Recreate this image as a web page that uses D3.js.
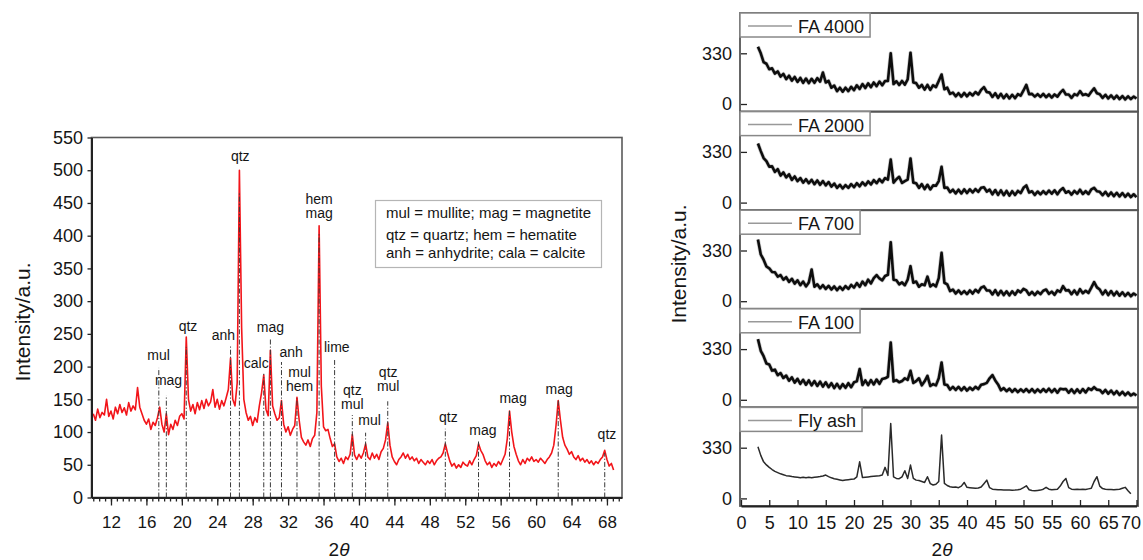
<!DOCTYPE html>
<html>
<head>
<meta charset="utf-8">
<script src="https://cdn.jsdelivr.net/npm/d3@7"></script>
<style>
  body { margin: 0; background: #fff; }
  svg text { font-family: "Liberation Sans", Arial, Helvetica, sans-serif; fill: #151515; }
</style>
</head>
<body>
<script>
// ---------------- Left panel: XRD pattern with phase assignments ----------------
const leftThetaStart = 10.0;   // first 2θ sample
const leftThetaStep = 0.25;    // 2θ sampling interval
const leftIntensity = [
  128,118,135,122,130,126,150,124,132,120,138,128,142,130,137,126,
  145,132,140,134,168,138,128,118,112,120,104,115,110,122,138,112,
  100,128,96,112,104,118,110,124,128,120,245,150,132,142,128,145,
  134,148,136,150,140,146,165,138,150,135,148,140,152,165,213,150,
  140,175,500,260,150,130,118,124,110,122,115,140,160,187,135,125,
  225,140,128,118,122,148,112,100,108,95,104,110,153,118,92,85,
  80,88,78,90,95,130,415,170,108,102,104,90,78,82,62,55,
  60,52,62,58,66,96,65,58,66,60,68,82,62,58,68,60,
  66,58,70,75,88,114,80,62,55,50,58,62,68,60,66,58,
  62,56,60,52,58,54,50,56,52,58,50,56,60,62,68,82,
  68,56,48,52,45,50,46,54,50,48,56,50,58,64,82,72,
  66,56,50,54,46,52,48,55,50,58,66,90,132,100,78,66,
  56,50,58,52,60,56,62,55,58,54,60,56,52,58,62,68,
  80,110,148,118,92,80,74,66,70,62,58,64,56,60,54,58,
  52,56,50,55,52,58,62,72,58,48,52,42
];
const leftYTicks = [0, 50, 100, 150, 200, 250, 300, 350, 400, 450, 500, 550];
const leftXTicks = [12, 16, 20, 24, 28, 32, 36, 40, 44, 48, 52, 56, 60, 64, 68];

// Reflection markers: 2θ position and height of the dash-dot line
const markerTheta = [17.4, 18.25, 20.5, 25.5, 26.5, 29.25, 30.0, 31.25, 33.0, 35.5, 37.25, 39.25, 40.75, 43.25, 49.75, 53.5, 57.0, 62.5, 67.75];
const markerTop   = [198, 156, 230, 231, 465, 189, 242, 207, 152, 405, 210, 126, 99, 147, 105, 88, 134, 150, 68];

// Phase labels: text lines, 2θ of label centre, intensity level of first line
const labelLines = [["mul"],["mag"],["qtz"],["anh"],["qtz"],["calc"],["mag"],["anh"],["mul","hem"],["hem","mag"],["lime"],["qtz","mul"],["mul"],["qtz","mul"],["qtz"],["mag"],["mag"],["mag"],["qtz"]];
const labelTheta = [17.37, 18.5, 20.7, 24.7, 26.6, 28.4, 30.0, 32.35, 33.3, 35.5, 37.5, 39.25, 41.2, 43.3, 50.1, 54.0, 57.4, 62.6, 68.0];
const labelLevel = [218, 180, 262, 248, 522, 205, 260, 222, 192, 456, 230, 165, 118, 192, 123, 103, 152, 166, 97];

const keyLines = ["mul = mullite; mag = magnetite", "qtz = quartz; hem = hematite", "anh = anhydrite; cala = calcite"];

// ---------------- Right panel: stacked patterns ----------------
const sampleNames = ["FA 4000", "FA 2000", "FA 700", "FA 100", "Fly ash"];
const rightThetaStart = 3.0;
const rightThetaStep = 0.5;
const fa4000 = [
  373,330,272,262,226,232,198,212,178,196,162,184,152,176,144,170,138,166,136,164,
  138,168,146,205,140,150,106,120,84,106,80,106,84,112,90,122,98,130,104,134,
  110,140,116,146,122,150,150,330,130,148,124,150,126,160,334,140,136,106,124,94,
  124,92,122,110,150,192,96,106,66,74,50,70,48,72,50,72,56,78,62,92,
  110,78,74,46,70,40,66,38,62,36,60,38,64,54,88,124,64,66,48,64,
  46,66,44,62,42,62,48,74,92,62,62,40,64,56,84,58,64,54,80,102,
  70,64,40,60,36,56,34,54,32,52,30,50,32,48,36
];
const fa2000 = [
  385,335,290,270,234,236,200,218,176,196,164,184,148,170,140,160,130,152,126,148,
  120,144,116,140,112,134,104,124,96,116,92,114,96,120,100,126,106,132,112,138,
  118,146,126,152,132,160,150,280,130,152,168,128,140,150,287,130,126,96,120,88,
  116,86,112,110,140,233,96,98,68,84,60,84,60,86,62,86,66,88,70,96,
  100,72,84,54,82,50,80,48,76,46,74,50,76,62,96,112,66,74,50,72,
  54,74,56,78,58,80,54,80,94,64,74,52,76,58,84,56,74,56,86,96,
  74,70,48,70,44,66,42,64,40,62,38,58,36,54,36
];
const fa700 = [
  401,304,270,226,214,190,188,160,170,140,156,126,146,114,136,104,128,96,122,206,
  94,110,84,104,80,100,76,96,72,94,74,98,80,106,88,118,94,128,104,140,
  116,150,170,148,136,164,172,384,140,136,110,122,104,140,228,120,128,94,110,104,
  160,96,110,96,150,315,120,110,66,76,50,70,48,66,46,70,50,74,58,88,
  96,70,70,44,72,40,68,40,64,38,64,42,70,58,80,70,42,60,40,62,
  46,68,76,48,62,42,70,60,98,70,72,46,70,44,78,52,68,54,88,124,
  90,76,44,70,40,66,38,62,36,58,34,54,32,50,37
];
const fa100 = [
  395,319,284,236,230,190,196,160,174,142,158,124,146,112,136,104,130,98,126,94,
  122,90,118,86,114,82,108,76,104,74,102,78,108,82,114,120,200,96,126,96,
  128,100,132,104,136,140,150,373,120,128,114,122,140,130,189,110,122,140,94,120,
  156,90,102,94,140,243,100,96,66,84,64,84,62,82,60,80,64,84,70,98,
  102,110,140,161,126,100,62,76,56,72,52,70,50,68,52,70,50,70,48,68,
  50,70,52,72,50,70,46,72,68,70,46,68,44,68,46,70,48,74,64,82,
  66,64,44,64,40,60,36,56,32,52,30,48,28,40,28
];
const flyAsh = [
  336,280,238,218,202,188,176,168,160,154,148,146,142,140,138,135,138,134,137,134,
  138,140,142,146,152,142,134,128,124,120,116,120,122,124,126,140,238,136,138,140,
  142,144,146,148,152,202,150,488,140,130,128,140,180,130,217,130,119,116,110,104,
  141,96,87,92,110,412,98,84,76,72,74,70,80,104,72,70,68,66,68,74,
  96,119,70,60,58,56,56,55,54,54,53,54,56,60,70,82,56,52,50,52,
  54,60,72,60,56,58,60,80,110,130,70,60,58,60,58,60,58,62,66,110,
  141,80,64,60,58,58,56,58,60,66,72,50,30
];
const rightSeries = [fa4000, fa2000, fa700, fa100, flyAsh];
const rightYTicks = [0, 330];
const rightXTicks = [0, 5, 10, 15, 20, 25, 30, 35, 40, 45, 50, 55, 60, 65, 70];

// ---------------- drawing ----------------
const svg = d3.select("body").append("svg").attr("width", 1143).attr("height", 560);

function styleAxis(g, size) {
  g.selectAll("text").attr("font-size", size).style("fill", "#151515");
  g.selectAll(".tick line").attr("stroke", "#222").attr("stroke-width", 1.3);
}

// ----- left chart -----
const xL = d3.scaleLinear().domain([9.8, 69.7]).range([91.5, 622]);
const yL = d3.scaleLinear().domain([0, 550]).range([497.5, 137.5]);
const L = svg.append("g");

L.append("rect")
  .attr("x", xL.range()[0]).attr("y", yL.range()[1])
  .attr("width", xL.range()[1] - xL.range()[0]).attr("height", yL.range()[0] - yL.range()[1])
  .attr("fill", "none").attr("stroke", "#5a5a5a").attr("stroke-width", 1.6);

const leftPts = leftIntensity.map((v, i) => [leftThetaStart + i * leftThetaStep, v]);
L.append("path").datum(leftPts)
  .attr("d", d3.line().x(d => xL(d[0])).y(d => yL(d[1])))
  .attr("fill", "none").attr("stroke", "#f2151a").attr("stroke-width", 1.6)
  .attr("stroke-linejoin", "round");

L.append("g").selectAll("line").data(markerTheta).join("line")
  .attr("x1", d => xL(d)).attr("x2", d => xL(d))
  .attr("y1", yL(0)).attr("y2", (d, i) => yL(markerTop[i]))
  .attr("stroke", "#3a3a3a").attr("stroke-width", 1)
  .attr("stroke-dasharray", "5,2,1.2,2");

const lab = L.append("g").attr("font-size", 14).attr("text-anchor", "middle");
labelLines.forEach((lines, i) => {
  const t = lab.append("text").attr("x", xL(labelTheta[i])).attr("y", yL(labelLevel[i]) + 5);
  lines.forEach((s, j) => t.append("tspan").attr("x", xL(labelTheta[i])).attr("dy", j === 0 ? 0 : 14).text(s));
});

// key box
const key = L.append("g");
key.append("rect").attr("x", 375.5).attr("y", 200.5).attr("width", 226).attr("height", 67)
  .attr("fill", "#fff").attr("stroke", "#b5b5b5").attr("stroke-width", 1.2);
const keyBase = [218, 240, 258];
keyLines.forEach((s, i) => key.append("text").attr("x", 386).attr("y", keyBase[i]).attr("font-size", 15).text(s));

// axes
const yAxL = L.append("g").attr("transform", `translate(${xL.range()[0]},0)`)
  .call(d3.axisLeft(yL).tickValues(leftYTicks).tickSize(4).tickSizeOuter(0).tickPadding(4.5).tickFormat(d3.format("d")));
yAxL.select(".domain").attr("stroke", "#222").attr("stroke-width", 2);
styleAxis(yAxL, 18);

const xAxL = L.append("g").attr("transform", `translate(0,${yL.range()[0]})`);
xAxL.append("g").call(d3.axisBottom(xL).tickValues(d3.range(10, 69.7, 4 / 6)).tickSize(4).tickSizeOuter(0).tickFormat(""))
  .call(g => g.select(".domain").remove())
  .call(g => g.selectAll(".tick line").attr("stroke", "#222").attr("stroke-width", 1.3));
const xMajL = xAxL.append("g").call(d3.axisBottom(xL).tickValues(leftXTicks).tickSize(8).tickSizeOuter(0).tickPadding(10));
xMajL.select(".domain").attr("stroke", "#222").attr("stroke-width", 2);
styleAxis(xMajL, 17);

L.append("text").attr("transform", "translate(30,322) rotate(-90)")
  .attr("text-anchor", "middle").attr("font-size", 21).text("Intensity/a.u.");
const tL = L.append("text").attr("x", 339).attr("y", 556).attr("text-anchor", "middle").attr("font-size", 19);
tL.append("tspan").text("2");
tL.append("tspan").attr("font-style", "italic").text("θ");

// ----- right chart -----
const xR = d3.scaleLinear().domain([0, 70]).range([741, 1136.5]);
const panelTop = 13, panelH = 98.6, frameL = 740, frameR = 1138;
const R = svg.append("g");

rightSeries.forEach((vals, i) => {
  const top = panelTop + i * panelH;
  const yR = d3.scaleLinear().domain([0, 330]).range([top + 91, top + 40.3]);
  const g = R.append("g");
  g.append("rect").attr("x", frameL).attr("y", top).attr("width", frameR - frameL).attr("height", panelH)
    .attr("fill", "none").attr("stroke", "#555").attr("stroke-width", 1.8);

  const pts = vals.map((v, k) => [rightThetaStart + k * rightThetaStep, v]);
  const line = d3.line().x(d => xR(d[0])).y(d => yR(d[1]));
  if (i < 4) {
    // grey fringe under the noisy trace
    g.append("path").datum(pts).attr("d", line)
      .attr("fill", "none").attr("stroke", "#8a8a8a").attr("stroke-width", 4)
      .attr("stroke-opacity", 0.45).attr("stroke-linejoin", "round");
  }
  g.append("path").datum(pts)
    .attr("d", line)
    .attr("fill", "none")
    .attr("stroke", i === 4 ? "#2a2a2a" : "#0d0d0d")
    .attr("stroke-width", i === 4 ? 1.5 : 2.6)
    .attr("stroke-linejoin", "round");

  const ya = g.append("g").attr("transform", `translate(${xR(0)},0)`)
    .call(d3.axisLeft(yR).tickValues(rightYTicks).tickSize(-6).tickSizeOuter(0).tickPadding(9));
  ya.select(".domain").remove();
  styleAxis(ya, 18);

  // sample legend
  const lg = g.append("g");
  const box = lg.append("rect").attr("x", frameL).attr("y", top).attr("height", 24)
    .attr("fill", "#fff").attr("stroke", "#888").attr("stroke-width", 1.5);
  lg.append("line").attr("x1", 748).attr("x2", 792).attr("y1", top + 13).attr("y2", top + 13)
    .attr("stroke", "#999").attr("stroke-width", 1.5);
  const txt = lg.append("text").attr("x", 798).attr("y", top + 20).attr("font-size", 18).text(sampleNames[i]);
  box.attr("width", txt.node().getComputedTextLength() + 798 + 6 - frameL);
});

const bottomR = panelTop + 5 * panelH;
const xAxR = R.append("g").attr("transform", `translate(0,${bottomR})`)
  .call(d3.axisBottom(xR).tickValues(rightXTicks).tickSize(-6).tickSizeOuter(0).tickPadding(10));
xAxR.select(".domain").attr("stroke", "#222").attr("stroke-width", 2.2);
styleAxis(xAxR, 18);
// keep the last label inside the page
xAxR.selectAll(".tick text").filter(d => d === 70).attr("x", -6);

R.append("text").attr("transform", "translate(686,264) rotate(-90)")
  .attr("text-anchor", "middle").attr("font-size", 21).text("Intensity/a.u.");
const tR = R.append("text").attr("x", 942).attr("y", 556).attr("text-anchor", "middle").attr("font-size", 19);
tR.append("tspan").text("2");
tR.append("tspan").attr("font-style", "italic").text("θ");
</script>
</body>
</html>
